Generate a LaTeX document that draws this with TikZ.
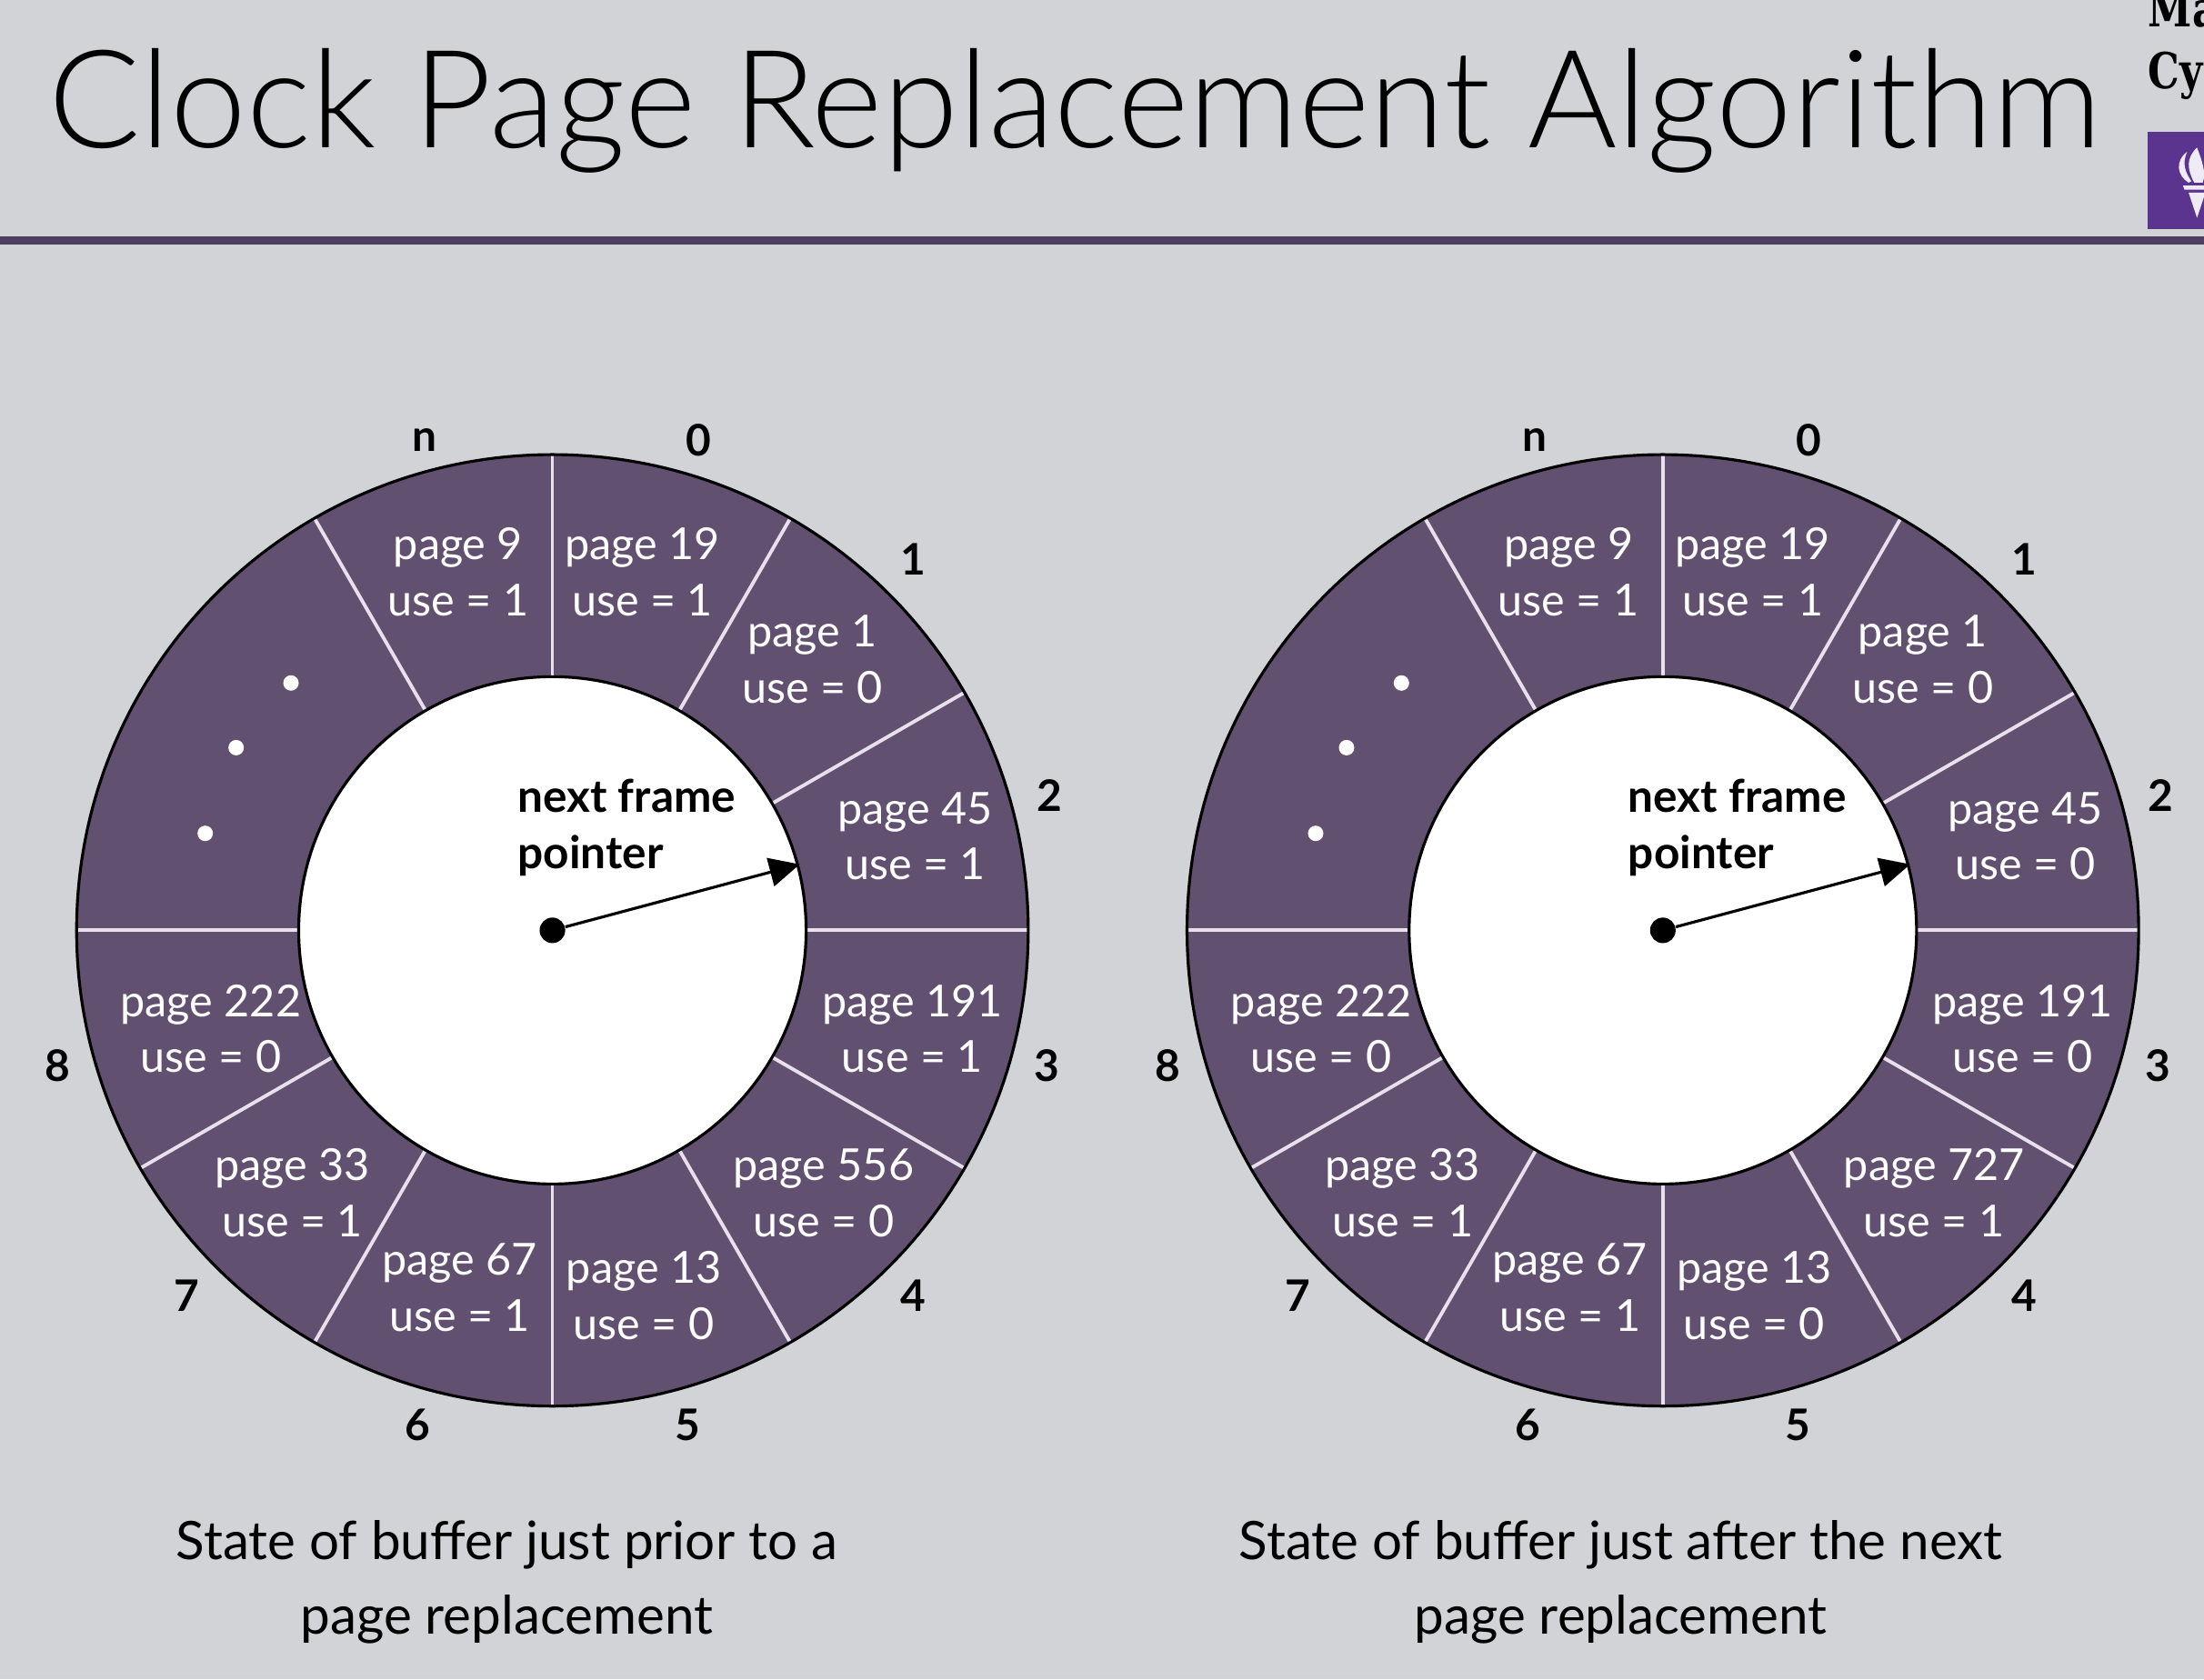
\documentclass[tikz,border=0pt]{standalone}
\usepackage{fontspec}
\setmainfont{Lato}
\newfontfamily\titlefont{Lato Light}
\newfontfamily\crestfont{DejaVu Serif}[BoldFont={DejaVu Serif Bold},BoldFeatures={FakeStretch=0.8}]
\usetikzlibrary{arrows.meta}
\definecolor{slidebg}{RGB}{210,211,215}
\definecolor{bufferpurple}{RGB}{98,80,112}
\definecolor{rulepurple}{RGB}{78,62,98}
\definecolor{crestpurple}{RGB}{90,52,142}
\definecolor{divider}{RGB}{232,224,236}
\tikzset{
	pagetext/.style={text=white, align=center, inner sep=0pt, font=\fontsize{13.8}{17.6}\selectfont},
	frameidx/.style={inner sep=0pt, font=\fontsize{13.6}{16}\selectfont\bfseries},
	caption/.style={align=center, inner sep=0pt, font=\fontsize{16.6}{23.3}\selectfont},
	crest/.style={anchor=base west, inner sep=0pt, font=\fontsize{15.5}{16}\crestfont\bfseries},
	torch/.style={fill=white!90!crestpurple}
}
\begin{document}
\begin{tikzpicture}[x=0.01546cm, y=0.01546cm]
	\fill[slidebg] (0,0) rectangle (1568,1195);
	\useasboundingbox (0,0) rectangle (1568,1195);
	\node[anchor=base west, inner sep=0pt, font=\fontsize{42.7}{43}\titlefont] (title) at (34,1090) {Clock Page Replacement Algorithm};
	\fill[rulepurple] (0,1021) rectangle (1568,1027);
	\begin{scope}
		\clip (0,0) rectangle (1568,1195);
		\node[crest] (crestA) at (1528,1176) {Ma};
		\node[crest] (crestB) at (1528,1132) {Cy};
		\fill[crestpurple] (1528,1032) rectangle (1568,1101);
		% torch of the crest
		\fill[torch] (1557,1065) .. controls (1549,1070) and (1547,1080) .. (1556,1087) .. controls (1552,1078) and (1555,1072) .. (1559,1066) -- cycle;
		\fill[torch] (1561,1065) .. controls (1556,1075) and (1555,1082) .. (1563,1090) .. controls (1566,1082) and (1570,1072) .. (1567,1065) -- cycle;
		\fill[torch] (1553,1063) -- (1572,1063) -- (1571,1060) -- (1554,1060) -- cycle;
		\fill[torch] (1557,1058) -- (1569,1058) -- (1563,1040) -- cycle;
	\end{scope}
	\foreach \cname/\cx/\useA/\useB/\pageC/\useC in {L/393/1/1/556/0, R/1183/0/0/727/1} {
		\begin{scope}[shift={(\cx,533)}]
			\fill[bufferpurple] (0,0) circle (338.5);
			% dividers between the frames
			\foreach \ang in {90,60,30,0,-30,-60,-90,-120,-150,180,120}
				\draw[divider, line width=1.1pt] (\ang:180) -- (\ang:338);
			\draw[line width=0.9pt] (0,0) circle (338.5);
			\draw[line width=0.9pt, fill=white] (0,0) circle (180.5);
			\foreach \pgname/\px/\py/\pg/\us in {a/-67/255/9/1, b/64/255/19/1, c/185/193/1/0, d/258/67/45/\useA, e/256/-70/191/\useB, f/193/-187/\pageC/\useC, g/65/-260/13/0, h/-66/-254/67/1, i/-185/-187/33/1, j/-243/-70/222/0}
				\node[pagetext] (page\cname\pgname) at (\px,\py) {page \pg\\use = \us};
			\foreach \idx/\px/\py in {n/-91/349, 0/104/349, 1/257/264, 2/354/96, 3/352/-96, 4/257/-260, 5/96/-352, 6/-96/-352, 7/-260/-260, 8/-352/-96}
				\node[frameidx] (idx\cname\idx) at (\px,\py) {\idx};
			\foreach \px/\py in {-186/176, -225/130, -247/69}
				\fill[white] (\px,\py) circle (5.5);
			\node[anchor=west, align=left, inner sep=0pt, font=\fontsize{14.1}{17.6}\selectfont\bfseries] (next\cname) at (-25,73) {next frame\\pointer};
			\node[circle, fill=black, inner sep=0pt, minimum size=8pt] (hub\cname) at (0,0) {};
			\coordinate (tip\cname) at (176,47);
			\draw[-{Triangle[length=9.5pt,width=9pt]}, line width=0.9pt] (hub\cname) -- (tip\cname);
		\end{scope}
	}
	\node[caption] (capL) at (360.5,69) {State of buffer just prior to a\\page replacement};
	\node[caption] (capR) at (1153,69) {State of buffer just after the next\\page replacement};
\end{tikzpicture}
\end{document}
